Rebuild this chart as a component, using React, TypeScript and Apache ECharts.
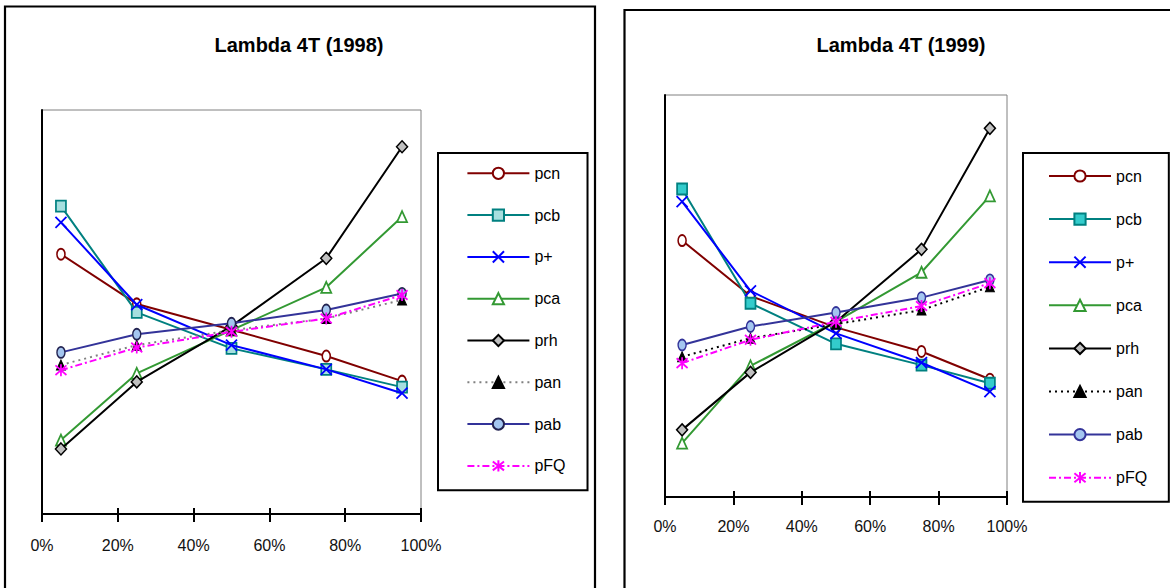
import { useEffect, useRef } from 'react';
import * as echarts from 'echarts';

const FONT = '"Liberation Sans", Arial, Helvetica, sans-serif';

// ---- data ----
const xPercent = [5, 25, 50, 75, 95];
const xAxisMin = 0;
const xAxisMax = 100;
const xAxisStep = 20;
const seriesNames = ['pcn', 'pcb', 'p+', 'pca', 'prh', 'pan', 'pab', 'pFQ'];

// Lambda 4T (1998) — relative values (no y scale shown)
const pcn1998 = [64.3, 52.0, 45.6, 39.1, 32.9];
const pcb1998 = [76.2, 49.9, 41.0, 35.8, 31.4];
const pPlus1998 = [72.2, 51.8, 41.8, 35.8, 29.9];
const pca1998 = [18.3, 34.8, 45.5, 56.1, 73.6];
const prh1998 = [16.1, 32.7, 46.5, 63.3, 90.9];
const pan1998 = [36.9, 41.8, 45.5, 48.4, 53.0];
const pab1998 = [40.0, 44.5, 47.2, 50.5, 54.6];
const pFQ1998 = [35.6, 41.2, 45.1, 48.4, 54.2];

// Lambda 4T (1999)
const pcn1999 = [63.8, 50.0, 42.2, 36.2, 29.3];
const pcb1999 = [76.6, 48.2, 38.1, 32.8, 28.3];
const pPlus1999 = [73.5, 51.3, 40.7, 33.4, 26.2];
const pca1999 = [13.4, 32.6, 43.6, 55.9, 74.9];
const prh1999 = [16.7, 31.0, 43.6, 61.6, 91.7];
const pan1999 = [34.9, 39.5, 43.0, 46.5, 52.3];
const pab1999 = [37.8, 42.4, 45.9, 49.6, 54.0];
const pFQ1999 = [33.3, 39.1, 43.6, 47.5, 53.2];

const values1998 = [pcn1998, pcb1998, pPlus1998, pca1998, prh1998, pan1998, pab1998, pFQ1998];
const values1999 = [pcn1999, pcb1999, pPlus1999, pca1999, prh1999, pan1999, pab1999, pFQ1999];

// ---- styles ----
const X_PATH = 'path://M0,0L10,10M10,0L0,10';
const STAR_PATH = 'path://M0,1L10,9M10,1L0,9M5,0L5,10';
const ELLIPSE_PATH = 'path://M5,0C7.8,0 10,3.1 10,7C10,10.9 7.8,14 5,14C2.2,14 0,10.9 0,7C0,3.1 2.2,0 5,0Z';

function seriesStyles(is99: boolean) {
  return [
    { line: '#800000', symbol: ELLIPSE_PATH, size: [8, 11], fill: '#ffffff', border: '#800000', bw: 1.8 },
    { line: '#008080', symbol: 'rect', size: [10, 11], fill: is99 ? '#33CCCC' : '#A6DFDF', border: '#008080', bw: 1.8 },
    { line: '#0000FF', symbol: X_PATH, size: [11, 11], fill: 'rgba(0,0,0,0)', border: '#0000FF', bw: 1.8 },
    { line: '#339933', symbol: 'triangle', size: [10, 11], fill: '#ffffff', border: '#339933', bw: 1.8 },
    { line: '#000000', symbol: 'diamond', size: [11, 12], fill: '#C0C0C0', border: '#000000', bw: 1.5 },
    { line: is99 ? '#000000' : '#808080', dash: [2, 4], symbol: 'triangle', size: [9, 10], fill: '#000000', border: '#000000', bw: 1 },
    { line: '#333399', symbol: ELLIPSE_PATH, size: [8, 11], fill: '#A4C6F0', border: is99 ? '#333399' : '#222250', bw: 1.6 },
    { line: '#FF00FF', dash: [7, 3, 2, 3], symbol: STAR_PATH, size: [11, 12], fill: 'rgba(0,0,0,0)', border: '#FF00FF', bw: 1.8 },
  ];
}

type Layout = {
  title: string;
  titleX: number;
  titleY: number;
  panel: { x: number; y: number };
  grid: { left: number; top: number; width: number; height: number };
  legend: { left: number; top: number; padding: number[]; gap: number };
  labelMargin: number;
};

function buildOption(values: number[][], is99: boolean, L: Layout) {
  const st = seriesStyles(is99);
  const series = seriesNames.map((name, i) => ({
    type: 'line',
    name,
    data: xPercent.map((x, j) => [x, values[i][j]]),
    symbol: st[i].symbol,
    symbolSize: st[i].size,
    showSymbol: true,
    lineStyle: { color: st[i].line, width: 2, type: (st[i] as any).dash || 'solid' },
    itemStyle: { color: st[i].fill, borderColor: st[i].border, borderWidth: st[i].bw },
    emphasis: { disabled: true },
    z: 3 + i * 0.01,
  }));
  return {
    animation: false,
    backgroundColor: '#ffffff',
    textStyle: { fontFamily: FONT },
    grid: {
      left: L.grid.left,
      top: L.grid.top,
      width: L.grid.width,
      height: L.grid.height,
      show: true,
      borderColor: '#808080',
      borderWidth: 1,
      backgroundColor: 'transparent',
      outerBoundsMode: 'none',
      containLabel: false,
    },
    xAxis: [
      {
        type: 'value',
        min: xAxisMin,
        max: xAxisMax,
        interval: xAxisStep,
        position: 'bottom',
        axisLine: { show: true, onZero: false, lineStyle: { color: '#000', width: 2 } },
        axisTick: { show: true, inside: false, length: 8, lineStyle: { color: '#000', width: 2 } },
        axisLabel: {
          show: true,
          formatter: '{value}%',
          margin: L.labelMargin,
          color: '#111',
          fontSize: 16,
          fontFamily: FONT,
        },
        splitLine: { show: false },
      },
      {
        type: 'value',
        min: xAxisMin,
        max: xAxisMax,
        interval: xAxisStep,
        position: 'bottom',
        axisLine: { show: false, onZero: false },
        axisTick: { show: true, inside: true, length: 6, lineStyle: { color: '#000', width: 2 } },
        axisLabel: { show: false },
        splitLine: { show: false },
      },
    ],
    yAxis: {
      type: 'value',
      min: 0,
      max: 100,
      axisLine: { show: true, onZero: false, lineStyle: { color: '#000', width: 2 } },
      axisTick: { show: false },
      axisLabel: { show: false },
      splitLine: { show: false },
    },
    legend: {
      orient: 'vertical',
      left: L.legend.left,
      top: L.legend.top,
      padding: L.legend.padding,
      itemWidth: 62,
      itemHeight: 14,
      itemGap: L.legend.gap,
      borderColor: '#000',
      borderWidth: 2,
      backgroundColor: '#fff',
      selectedMode: false,
      textStyle: { fontSize: 16, fontFamily: FONT, color: '#000' },
      data: seriesNames,
    },
    graphic: [
      {
        type: 'rect',
        silent: true,
        shape: { x: L.panel.x, y: L.panel.y, width: 590, height: 700 },
        style: { fill: 'none', stroke: '#000', lineWidth: 2.2 },
        z: 0,
      },
      {
        type: 'text',
        silent: true,
        x: L.titleX,
        y: L.titleY,
        style: {
          text: L.title,
          font: 'bold 20px ' + FONT,
          fill: '#000',
          align: 'center',
          verticalAlign: 'middle',
        },
      },
    ],
    series,
  };
}

const OFFSET = 610;

const leftLayout: Layout = {
  title: 'Lambda 4T (1998)',
  titleX: 299,
  titleY: 45,
  panel: { x: 5, y: 6.5 },
  grid: { left: 42, top: 110, width: 379, height: 404 },
  legend: { left: 438, top: 153, padding: [12.3, 22, 16.3, 28.4], gap: 25.8 },
  labelMargin: 23,
};

const rightLayout: Layout = {
  title: 'Lambda 4T (1999)',
  titleX: 901 - OFFSET,
  titleY: 45,
  panel: { x: 624.5 - OFFSET, y: 10 },
  grid: { left: 665 - OFFSET, top: 95, width: 342, height: 402 },
  legend: { left: 1023 - OFFSET, top: 153, padding: [15, 21.7, 16.1, 25], gap: 27.1 },
  labelMargin: 21.5,
};

export default function App() {
  const leftRef = useRef<HTMLDivElement>(null);
  const rightRef = useRef<HTMLDivElement>(null);
  useEffect(() => {
    const c1 = echarts.init(leftRef.current!, null, { renderer: 'svg' });
    c1.setOption(buildOption(values1998, false, leftLayout) as any);
    const c2 = echarts.init(rightRef.current!, null, { renderer: 'svg' });
    c2.setOption(buildOption(values1999, true, rightLayout) as any);
    return () => {
      c1.dispose();
      c2.dispose();
    };
  }, []);
  return (
    <div style={{ position: 'absolute', left: 0, top: 0, width: 1170, height: 588, background: '#fff', overflow: 'hidden' }}>
      <div ref={leftRef} style={{ position: 'absolute', left: 0, top: 0, width: OFFSET, height: 588 }} />
      <div ref={rightRef} style={{ position: 'absolute', left: OFFSET, top: 0, width: 1170 - OFFSET, height: 588 }} />
    </div>
  );
}
